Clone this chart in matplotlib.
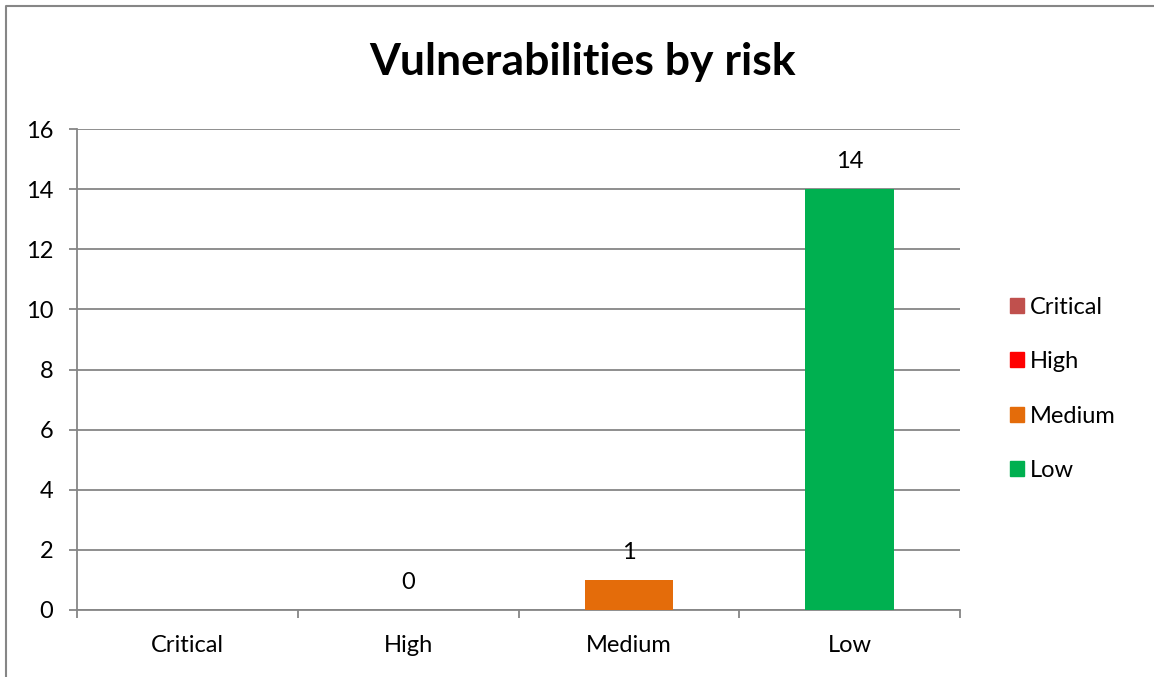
import matplotlib.pyplot as plt
import numpy as np
from matplotlib.lines import Line2D
from matplotlib.patches import Patch

categories = ['Critical', 'High', 'Medium', 'Low']
counts = [np.nan, 0, 1, 14]  # Critical has no value in the source
colors = ['#C0504D', '#FF0000', '#E46C0A', '#00B050']
y_ticks = [0, 2, 4, 6, 8, 10, 12, 14, 16]

plt.rcParams['font.family'] = ['Lato', 'DejaVu Sans']
grey = '#868686'
fs = 17

fig = plt.figure(figsize=(11.54, 6.77), dpi=100)
ax = fig.add_axes([77 / 1154, 1 - 610 / 677, (960 - 77) / 1154, (610 - 129) / 677])

x = np.arange(len(categories))
ax.bar(x, counts, width=0.4, color=colors, zorder=3)

for xi, v in zip(x, counts):
    if np.isnan(v):
        continue
    ax.annotate('{:g}'.format(v), (xi, v), xytext=(0, 20), textcoords='offset points',
                ha='center', va='center', fontsize=fs)

ax.set_xlim(-0.5, len(categories) - 0.5)
ax.set_ylim(0, 16)
ax.set_yticks(y_ticks)
ax.yaxis.grid(True, color=grey, linewidth=1.3, zorder=0)
ax.set_xticks(np.arange(len(categories) + 1) - 0.5)
ax.set_xticklabels([])
ax.set_xticks(x, minor=True)
ax.set_xticklabels(categories, minor=True)
ax.tick_params(axis='x', which='minor', length=0, pad=18, labelsize=fs)
ax.tick_params(axis='x', which='major', length=6, width=1.3, color=grey)
ax.tick_params(axis='y', length=6, width=1.3, color=grey, labelsize=fs, pad=11)

for side in ['top', 'right']:
    ax.spines[side].set_visible(False)
for side in ['left', 'bottom']:
    ax.spines[side].set_color(grey)
    ax.spines[side].set_linewidth(1.3)

fig.suptitle('Vulnerabilities by risk', x=583 / 1154, y=1 - 62 / 677, va='center',
             fontsize=32, fontweight='bold')

handles = [Patch(color=c, label=l) for c, l in zip(colors, categories)]
fig.legend(handles=handles, loc='center left', bbox_to_anchor=(989 / 1154, 1 - 389 / 677),
           frameon=False, fontsize=fs, handlelength=0.6, handleheight=0.6,
           handletextpad=0.25, labelspacing=1.42)

# outer chart frame: only top and left edges are visible in the crop
fig.add_artist(Line2D([6 / 1154, 6 / 1154, 1], [0, 1 - 6 / 677, 1 - 6 / 677],
                      transform=fig.transFigure, color=grey, linewidth=1.5))

plt.savefig('out.png')
